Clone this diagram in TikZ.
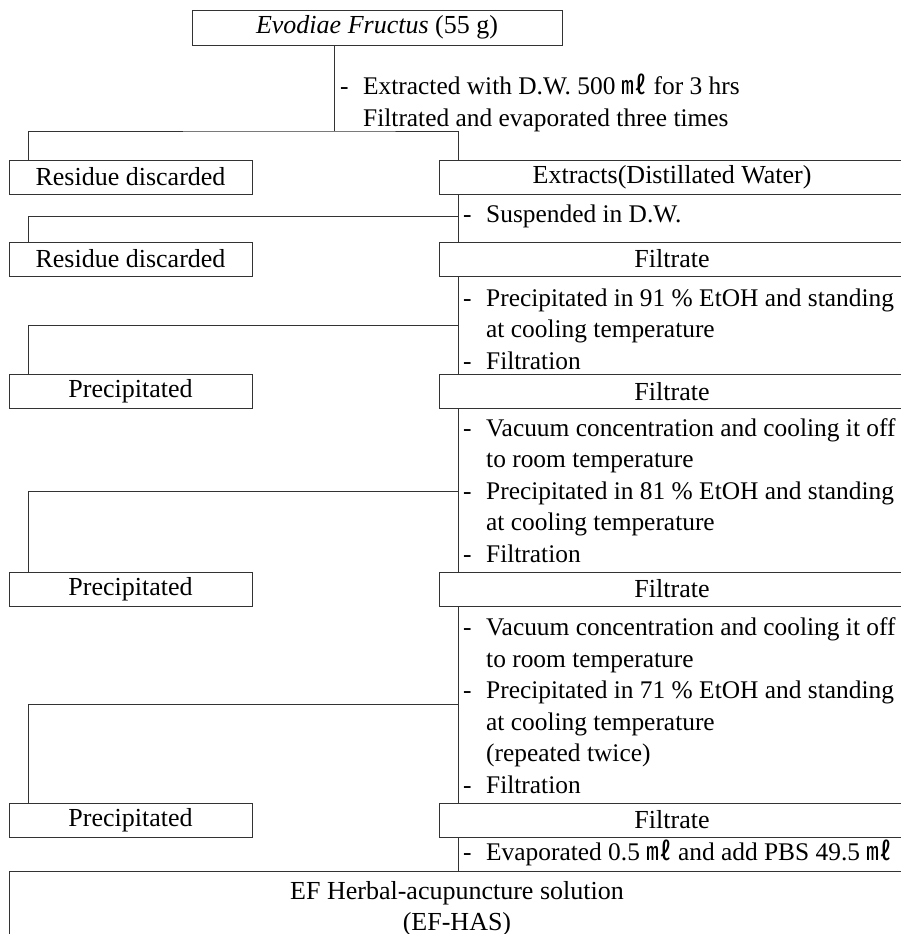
\documentclass[tikz,border=0pt]{standalone}
\usepackage{fontspec}
\setmainfont{Liberation Serif}
\newfontfamily\cjk{Noto Sans CJK KR}
\usetikzlibrary{positioning}
\newcommand{\ml}{{\cjk ㎖}}
\newcommand{\stepdash}{\makebox[23pt][l]{-}}
\newcommand{\stepind}{\hspace*{23pt}}

\begin{document}
\begin{tikzpicture}[x=1pt, y=-1pt,
    box/.style={rectangle, draw=black!80, line width=0.9pt, inner sep=0pt, align=center, font=\fontsize{26}{31}\selectfont},
    leftbox/.style={box, minimum width=243pt, minimum height=34pt},
    rightbox/.style={box, minimum width=466pt, minimum height=34pt},
    note/.style={anchor=west, align=left, inner sep=0pt, font=\fontsize{25.4}{31.5}\selectfont},
    link/.style={draw=black!80, line width=0.9pt},
]
\useasboundingbox (0,0) rectangle (900,934);

% Raw material
\node[box, minimum width=370pt, minimum height=35pt] (src) at (377,27.5) {\textit{Evodiae Fructus} (55 g)};

% Boxes, left column (discarded) and right column (kept)
\node[leftbox] (res1) at (130.5,177) {Residue discarded};
\node[rightbox] (ext1) at (672,177) {Extracts(Distillated Water)};
\node[leftbox] (res2) at (130.5,259) {Residue discarded};
\node[rightbox] (fil2) at (672,259) {Filtrate};
\node[leftbox] (pre3) at (130.5,391.5) {Precipitated};
\node[rightbox] (fil3) at (672,391.5) {Filtrate};
\node[leftbox] (pre4) at (130.5,589) {Precipitated};
\node[rightbox] (fil4) at (672,589) {Filtrate};
\node[leftbox] (pre5) at (130.5,820) {Precipitated};
\node[rightbox] (fil5) at (672,820) {Filtrate};

% Final solution
\node[box, anchor=north, minimum width=896pt, inner ysep=10pt] (has) at (457,871) {EF Herbal-acupuncture solution\\(EF-HAS)};

% Step notes
\node[note] (st0) at (340,103) {\stepdash Extracted with D.W. 500 \ml\ for 3 hrs\\\stepind Filtrated and evaporated three times};
\node[note] (st1) at (463,216) {\stepdash Suspended in D.W.};
\node[note] (st2) at (463,329) {\stepdash Precipitated in 91 \% EtOH and standing\\\stepind at cooling temperature\\\stepdash Filtration};
\node[note] (st3) at (463,490.5) {\stepdash Vacuum concentration and cooling it off\\\stepind to room temperature\\\stepdash Precipitated in 81 \% EtOH and standing\\\stepind at cooling temperature\\\stepdash Filtration};
\node[note] (st4) at (463,705.5) {\stepdash Vacuum concentration and cooling it off\\\stepind to room temperature\\\stepdash Precipitated in 71 \% EtOH and standing\\\stepind at cooling temperature\\\stepind (repeated twice)\\\stepdash Filtration};
\node[note] (st5) at (463,853) {\stepdash Evaporated 0.5 \ml\ and add PBS 49.5 \ml};

% Split points
\coordinate (split0) at (334,131);
\coordinate (split1) at (459,216);
\coordinate (split2) at (459,325);
\coordinate (split3) at (459,491);
\coordinate (split4) at (459,704);

% Connectors
\draw[link] (src.south -| split0) -- (split0);
\draw[link] ([xshift=20pt]res1.north west) |- (split0) -| ([xshift=20pt]ext1.north west);
\draw[link] ([xshift=20pt]ext1.south west) -- ([xshift=20pt]fil2.north west);
\draw[link] ([xshift=20pt]res2.north west) |- (split1);
\draw[link] ([xshift=20pt]fil2.south west) -- ([xshift=20pt]fil3.north west);
\draw[link] ([xshift=20pt]pre3.north west) |- (split2);
\draw[link] ([xshift=20pt]fil3.south west) -- ([xshift=20pt]fil4.north west);
\draw[link] ([xshift=20pt]pre4.north west) |- (split3);
\draw[link] ([xshift=20pt]fil4.south west) -- ([xshift=20pt]fil5.north west);
\draw[link] ([xshift=20pt]pre5.north west) |- (split4);
\draw[link] ([xshift=20pt]fil5.south west) -- ([xshift=20pt]fil5.south west |- has.north);

\end{tikzpicture}
\end{document}
